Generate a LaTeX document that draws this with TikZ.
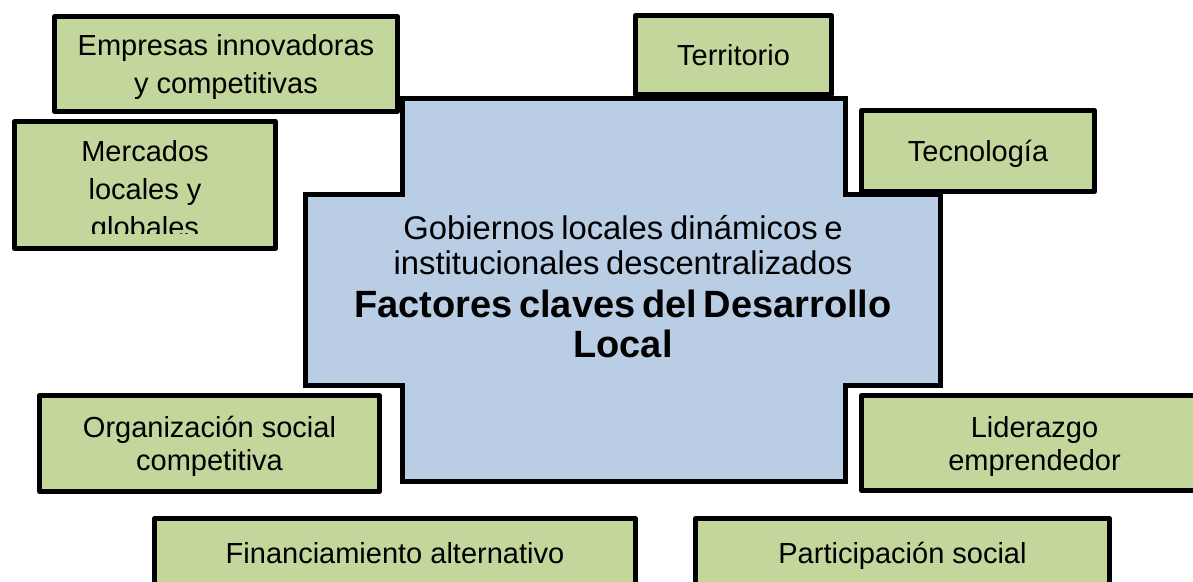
\documentclass[tikz,border=0pt]{standalone}
\usepackage{fontspec}
\setmainfont{Liberation Sans}
\definecolor{facgreen}{HTML}{C3D69B}
\definecolor{cenblue}{HTML}{B9CDE5}
\begin{document}
\begin{tikzpicture}[x=0.5pt,y=-0.5pt,
  fac/.style={draw, line width=2.5pt, line join=round, fill=facgreen, inner sep=0pt, align=center, text depth=0pt, font=\fontsize{14.5}{19}\selectfont},
  facnarrow/.style={fac, font=\fontsize{14.5}{16.5}\selectfont}]
\useasboundingbox (0,0) rectangle (1193,582);
\draw[line width=2.5pt, fill=cenblue] (402.5,98.5) -- (845.5,98.5) -- (845.5,194.5) -- (940.5,194.5) -- (940.5,385.5) -- (845.5,385.5) -- (845.5,481.5) -- (402.5,481.5) -- (402.5,385.5) -- (305.5,385.5) -- (305.5,194.5) -- (402.5,194.5) -- cycle;
\node[text width=310pt, align=center, inner sep=0pt] (cen) at (623,287){{\fontsize{16.4}{17.5}\selectfont Gobiernos locales dinámicos e\\institucionales descentralizados\par}\vspace{1.5pt}{\bfseries\fontsize{19}{20}\selectfont Factores claves del Desarrollo\\Local\par}};
\node[fac, minimum width=171.5pt, minimum height=47.5pt] (fac0) at (226,64){Empresas innovadoras\\y competitivas};
\node[fac, minimum width=98pt, minimum height=39.5pt] (fac1) at (733.5,55){Territorio};
\node[fac, minimum width=130.5pt, minimum height=63.5pt] (fac2) at (145,185){};
\begin{scope}
\clip (14,122) rectangle (276,234);
\node[inner sep=0pt, align=center, font=\fontsize{14.5}{19}\selectfont] (fac2t) at (145,192){Mercados\\locales y\\globales};
\end{scope}
\node[fac, minimum width=116.5pt, minimum height=40.5pt] (fac3) at (978,151){Tecnología};
\node[facnarrow, minimum width=170pt, minimum height=48pt] (fac4) at (209.5,443.5){Organización social\\competitiva};
\node[facnarrow, minimum width=173pt, minimum height=47.5pt] (fac5) at (1034.5,443){Liderazgo\\emprendedor};
\node[fac, minimum width=240.5pt, minimum height=34.5pt] (fac6) at (395,553){Financiamiento alternativo};
\node[fac, minimum width=207pt, minimum height=34.5pt] (fac7) at (902.5,553){Participación social};
\end{tikzpicture}
\end{document}
